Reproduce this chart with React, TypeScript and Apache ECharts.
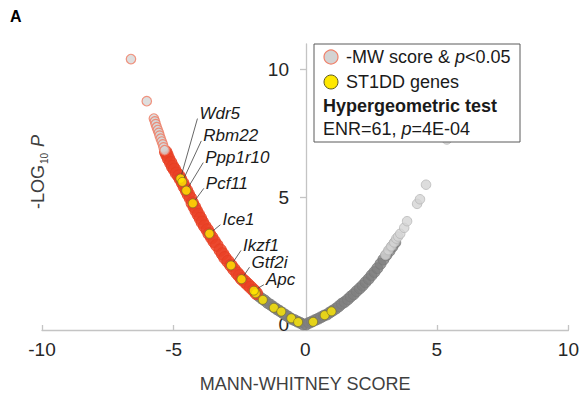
import React, { useEffect, useRef } from 'react';
import * as echarts from 'echarts';

// ---- data ----
const xMin = -10;
const xMax = 10;
const yTickValues = [0, 5, 10];

// significant negative MW score, sparse (upper end)
const sigSparseX = [-6.62, -6.02, -5.75, -5.71, -5.68, -5.64, -5.60, -5.56, -5.53, -5.49, -5.45, -5.41, -5.38, -5.34];
const sigSparseY = [10.41, 8.76, 8.08, 7.97, 7.86, 7.74, 7.63, 7.52, 7.41, 7.29, 7.18, 7.07, 6.95, 6.84];

// significant negative MW score, dense band
const sigDenseX = [-5.30, -5.25, -5.19, -5.11, -5.04, -4.97, -4.89, -4.80, -4.74, -4.66, -4.59, -4.51, -4.44, -4.36, -4.29, -4.21, -4.14, -4.06, -3.98, -3.91, -3.82, -3.72, -3.65, -3.55, -3.46, -3.36, -3.23, -3.14, -3.05, -2.93, -2.82, -2.71, -2.59, -2.50, -2.41, -2.29, -2.18, -2.07, -1.95, -1.86];
const sigDenseY = [6.77, 6.65, 6.50, 6.35, 6.20, 6.09, 5.94, 5.83, 5.71, 5.56, 5.41, 5.26, 5.11, 4.96, 4.77, 4.62, 4.47, 4.32, 4.17, 4.02, 3.87, 3.72, 3.57, 3.42, 3.27, 3.12, 2.93, 2.78, 2.63, 2.48, 2.33, 2.18, 2.03, 1.92, 1.80, 1.69, 1.58, 1.47, 1.35, 1.24];

// non-significant, negative side
const nsLeftX = [-1.77, -1.65, -1.54, -1.43, -1.32, -1.20, -1.09, -0.98, -0.86, -0.75, -0.64, -0.53, -0.41, -0.30, -0.19, -0.08];
const nsLeftY = [1.13, 1.03, 0.96, 0.86, 0.79, 0.70, 0.62, 0.55, 0.47, 0.39, 0.32, 0.24, 0.19, 0.13, 0.08, 0.02];

// positive side, dense band
const posDenseX = [0.04, 0.15, 0.26, 0.38, 0.49, 0.60, 0.71, 0.83, 0.94, 1.05, 1.17, 1.28, 1.39, 1.50, 1.62, 1.73, 1.84, 1.95, 2.07, 2.18, 2.29, 2.41, 2.52, 2.63, 2.74, 2.86, 2.97, 3.08, 3.20, 3.31, 3.42];
const posDenseY = [0.02, 0.08, 0.13, 0.19, 0.24, 0.30, 0.36, 0.41, 0.49, 0.56, 0.64, 0.73, 0.83, 0.90, 1.00, 1.11, 1.20, 1.32, 1.43, 1.54, 1.67, 1.80, 1.94, 2.07, 2.22, 2.39, 2.56, 2.73, 2.89, 3.06, 3.23];

// positive side, sparse (upper end)
const posSparseX = [3.05, 3.16, 3.27, 3.38, 3.46, 3.53, 3.61, 3.76, 3.87, 4.25, 4.36, 4.59, 5.38];
const posSparseY = [2.74, 2.93, 3.08, 3.23, 3.38, 3.46, 3.57, 3.80, 4.06, 4.74, 4.92, 5.49, 7.26];

// ST1DD genes
const labeledGenes = ['Wdr5', 'Rbm22', 'Ppp1r10', 'Pcf11', 'Ice1', 'Ikzf1', 'Gtf2i', 'Apc'];
const labeledX = [-4.74, -4.67, -4.52, -4.27, -3.64, -2.82, -2.42, -1.95];
const labeledY = [5.73, 5.60, 5.26, 4.76, 3.57, 2.33, 1.79, 1.34];
const otherGenesX = [-1.88, -1.61, -1.19, -0.91, -0.53, -0.27, 0.30, 0.74, 1.00];
const otherGenesY = [1.24, 0.98, 0.67, 0.52, 0.26, 0.11, 0.12, 0.38, 0.53];

// label layout (pixel offsets of gene labels from their dots)
const labelDx = [19, 21, 19, 13, 13, 12, 10, 12];
const labelDy = [-65, -46, -33, -20, -14, -20, -17, -11];

const FONT = '"Liberation Sans", Arial, Helvetica, sans-serif';
const W = 582;
const GRID_LEFT = 42;
const GRID_RIGHT = 12;

const pairs = (xs: number[], ys: number[]) => xs.map((x, i) => [x, ys[i]]);

export default function App() {
  const ref = useRef<HTMLDivElement>(null);

  useEffect(() => {
    document.body.style.margin = '0';
    if (!ref.current) return;
    const chart = echarts.init(ref.current, undefined, { renderer: 'svg' });

    const gridWidth = W - GRID_LEFT - GRID_RIGHT;
    // place the y axis at x = 0
    const yAxisOffset = -gridWidth * (0 - xMin) / (xMax - xMin);

    const axisColor = '#c4c4c4';
    chart.setOption({
      animation: false,
      grid: { left: GRID_LEFT, right: GRID_RIGHT, top: 44, bottom: 59, containLabel: false },
      xAxis: {
        type: 'value',
        min: xMin,
        max: xMax,
        interval: 5,
        name: 'MANN-WHITNEY SCORE',
        nameLocation: 'middle',
        nameGap: 45,
        nameTextStyle: { fontSize: 18, color: '#3f3f3f', fontFamily: FONT },
        axisLine: { onZero: false, lineStyle: { color: axisColor, width: 1.3 } },
        axisTick: { inside: true, length: 5, lineStyle: { color: axisColor, width: 1.3 } },
        axisLabel: { fontSize: 19, color: '#262626', fontFamily: FONT, margin: 10 },
        splitLine: { show: false },
      },
      yAxis: {
        type: 'value',
        position: 'left',
        offset: yAxisOffset,
        min: -0.2,
        max: 11,
        axisLine: { show: true, onZero: false, lineStyle: { color: axisColor, width: 1.3 } },
        axisTick: { show: true, length: 6, customValues: yTickValues, lineStyle: { color: axisColor, width: 1.3 } },
        axisLabel: { fontSize: 19, color: '#262626', fontFamily: FONT, margin: 17, customValues: yTickValues },
        splitLine: { show: false },
      },
      series: [
        {
          type: 'scatter', data: pairs(nsLeftX, nsLeftY), symbolSize: 11,
          itemStyle: { color: '#808080', borderColor: '#7a7a7a', borderWidth: 1 }, z: 2,
        },
        {
          type: 'scatter', data: pairs(posDenseX, posDenseY), symbolSize: 11,
          itemStyle: { color: '#808080', borderColor: '#7a7a7a', borderWidth: 1 }, z: 2,
        },
        {
          type: 'scatter', data: pairs(posSparseX, posSparseY), symbolSize: 9.5,
          itemStyle: { color: '#d4d4d4', borderColor: '#b8b8b8', borderWidth: 1 }, z: 3,
        },
        {
          type: 'scatter', data: pairs(sigDenseX, sigDenseY), symbolSize: 12.5,
          itemStyle: { color: '#ea4126', borderColor: '#e63d22', borderWidth: 1 }, z: 3,
        },
        {
          type: 'scatter', data: pairs(sigSparseX, sigSparseY), symbolSize: 9.5,
          itemStyle: { color: '#d6d6d6', borderColor: '#f07a62', borderWidth: 1.2 }, z: 3,
        },
        {
          type: 'scatter', data: pairs(otherGenesX, otherGenesY), symbolSize: 9,
          itemStyle: { color: '#ffe800', borderColor: '#6f6a2c', borderWidth: 0.8 }, z: 4,
        },
        {
          type: 'scatter', data: pairs(labeledX, labeledY), symbolSize: 9,
          itemStyle: { color: '#ffe800', borderColor: '#6f6a2c', borderWidth: 0.8 }, z: 4,
        },
      ],
    });

    // gene labels and leader lines, anchored on the data points
    const geneGraphics: any[] = [];
    labeledGenes.forEach((g, i) => {
      const p = chart.convertToPixel({ gridIndex: 0 }, [labeledX[i], labeledY[i]]) as number[];
      const tx = p[0] + labelDx[i];
      const ty = p[1] + labelDy[i];
      const ex = tx - 2;
      const ey = ty + 5;
      const vx = ex - p[0];
      const vy = ey - p[1];
      const len = Math.sqrt(vx * vx + vy * vy) || 1;
      const sx = p[0] + (vx / len) * 4.5;
      const sy = p[1] + (vy / len) * 4.5;
      geneGraphics.push({
        type: 'line',
        shape: { x1: sx, y1: sy, x2: ex, y2: ey },
        style: { stroke: '#404040', lineWidth: 0.8 },
        z: 10,
      });
      geneGraphics.push({
        type: 'text',
        x: tx,
        y: ty,
        style: {
          text: g,
          fontSize: 17,
          fontStyle: 'italic',
          fontFamily: FONT,
          fill: '#1a1a1a',
          align: 'left',
          verticalAlign: 'middle',
        },
        z: 10,
      });
    });

    const legendText = (txt: string, x: number, y: number, bold = false) => ({
      type: 'text',
      x,
      y,
      style: {
        text: txt,
        fontSize: 18,
        fontFamily: FONT,
        fontWeight: bold ? 'bold' : 'normal',
        fill: '#1a1a1a',
        align: 'left',
        verticalAlign: 'middle',
        rich: {
          t: { fontSize: 18, fontFamily: FONT, fill: '#1a1a1a' },
          i: { fontSize: 18, fontFamily: FONT, fill: '#1a1a1a', fontStyle: 'italic' },
        },
      },
      z: 101,
    });

    chart.setOption({
      graphic: [
        {
          type: 'text',
          x: 10,
          y: 16,
          style: { text: 'A', fontSize: 16, fontWeight: 'bold', fontFamily: FONT, fill: '#000', verticalAlign: 'middle' },
        },
        {
          type: 'text',
          x: 38,
          y: 172,
          rotation: Math.PI / 2,
          style: {
            text: '{n|-LOG}{s|10}{n| }{i|P}',
            align: 'center',
            verticalAlign: 'middle',
            rich: {
              n: { fontSize: 18, fontFamily: FONT, fill: '#3f3f3f', lineHeight: 22, verticalAlign: 'middle' },
              s: { fontSize: 10, fontFamily: FONT, fill: '#3f3f3f', lineHeight: 22, verticalAlign: 'bottom', padding: [0, 1, 0, 1] },
              i: { fontSize: 18, fontFamily: FONT, fill: '#3f3f3f', fontStyle: 'italic', lineHeight: 22, verticalAlign: 'middle' },
            },
          },
        },
        ...geneGraphics,
        {
          type: 'rect',
          shape: { x: 314, y: 44, width: 206, height: 98 },
          style: { fill: '#ffffff', stroke: '#5a5a5a', lineWidth: 1 },
          z: 100,
        },
        {
          type: 'circle',
          shape: { cx: 331, cy: 57, r: 7 },
          style: { fill: '#d3d3d3', stroke: '#f0806a', lineWidth: 1.2 },
          z: 101,
        },
        {
          type: 'circle',
          shape: { cx: 331, cy: 82, r: 7 },
          style: { fill: '#ffe800', stroke: '#5f5a20', lineWidth: 1 },
          z: 101,
        },
        legendText('{t|-MW score & }{i|p}{t|<0.05}', 346, 57),
        legendText('ST1DD genes', 346, 82),
        legendText('Hypergeometric test', 323, 106, true),
        legendText('{t|ENR=61, }{i|p}{t|=4E-04}', 323, 129),
      ],
    });

    return () => chart.dispose();
  }, []);

  return <div ref={ref} style={{ width: 582, height: 398 }} />;
}
